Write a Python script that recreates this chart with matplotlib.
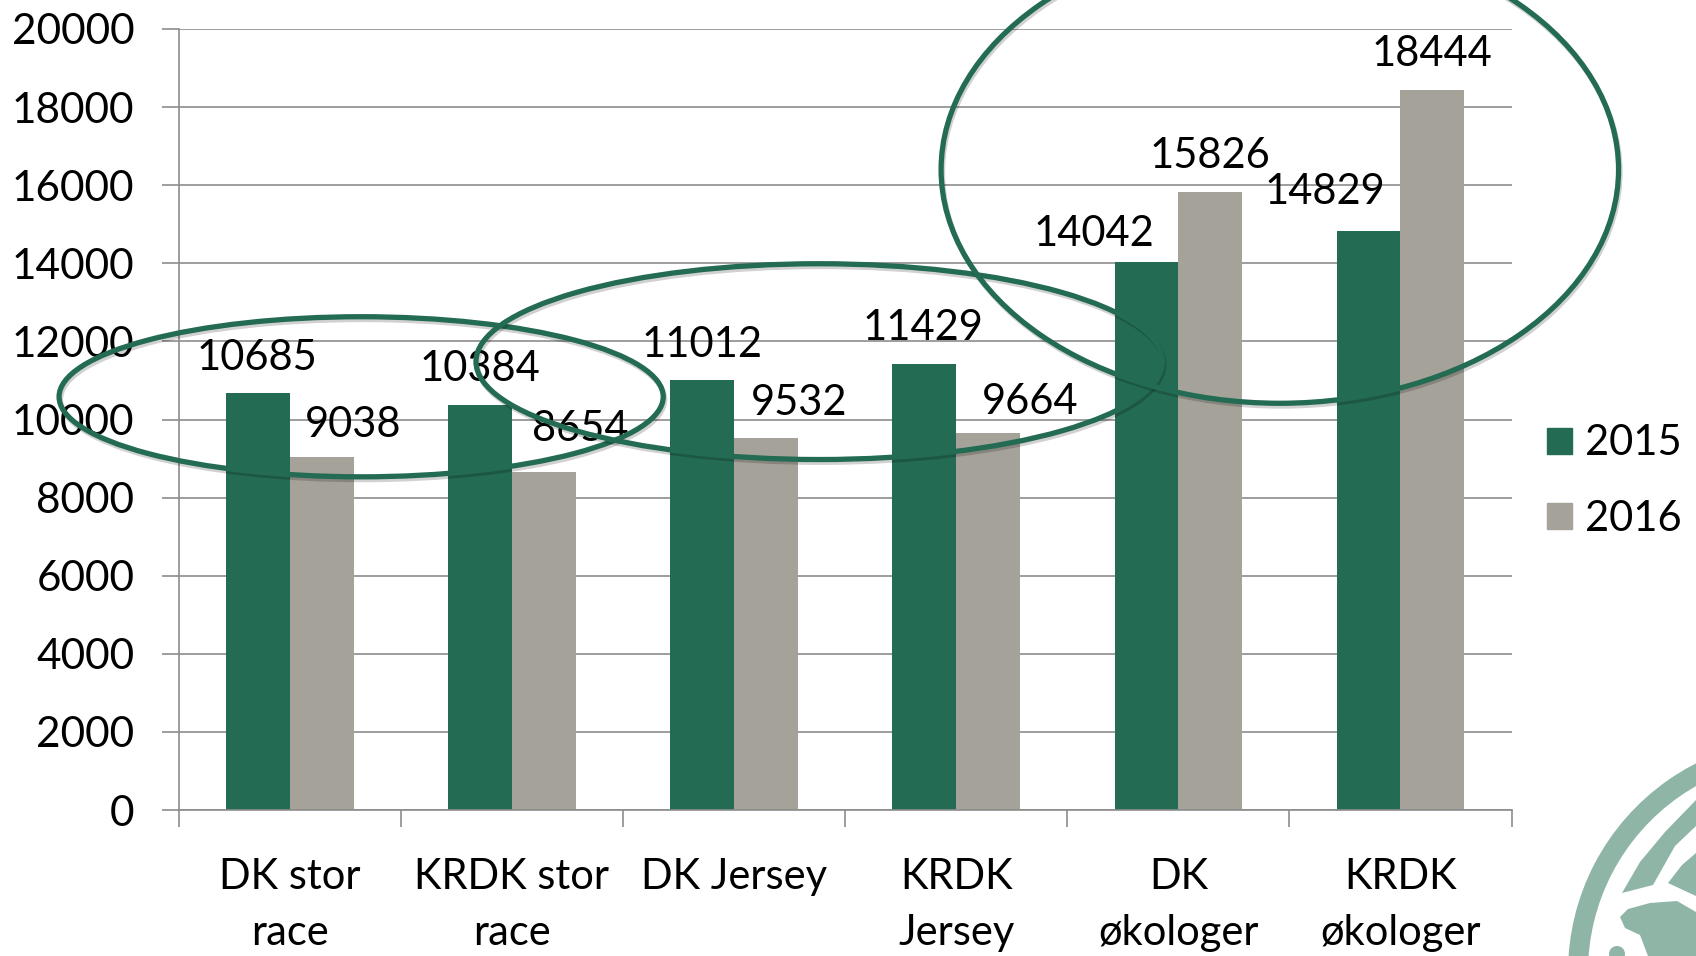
import matplotlib
matplotlib.use("Agg")
from matplotlib import pyplot as plt
from matplotlib import patheffects
from matplotlib.patches import Ellipse, Wedge, Polygon, Circle, Patch
import numpy as np

categories = ["DK stor\nrace", "KRDK stor\nrace", "DK Jersey", "KRDK\nJersey", "DK\nøkologer", "KRDK\nøkologer"]
values_2015 = [10685, 10384, 11012, 11429, 14042, 14829]
values_2016 = [9038, 8654, 9532, 9664, 15826, 18444]
y_ticks = [0, 2000, 4000, 6000, 8000, 10000, 12000, 14000, 16000, 18000, 20000]

# label shifts in pixels, some labels sit beside their bar
shift_2015 = [-1, 0, 0, -1, -53, -44]
shift_2016 = [31, 36, 33, 42, 0, 0]
rise_2015 = [35, 36, 35, 36, 28, 39]
rise_2016 = [32, 43, 35, 31, 36, 36]

# hand drawn rings: centre x, centre y, width, height
rings = [(0.321, 10582, 2.72, 4100), (2.383, 11482, 3.09, 5014), (4.457, 16399, 3.05, 11967)]

GREEN = "#236B52"
GREY = "#A5A299"
LOGO = "#8FB5A6"
LINE = "#8C8C8C"
W, H = 1696, 956

plt.rcParams["font.family"] = "Lato"
fig = plt.figure(figsize=(W / 100, H / 100), dpi=100)

# watermark in the corner, drawn in pixel coordinates
bg = fig.add_axes([0, 0, 1, 1], zorder=0)
bg.set_xlim(0, W)
bg.set_ylim(H, 0)
bg.axis("off")
cx, cy = 1802, 972
bg.add_patch(Wedge((cx, cy), 234, 180, 290, width=20, color=LOGO, lw=0))
bg.add_patch(Polygon([(1622, 893), (1640, 862), (1665, 832), (1696, 800), (1696, 826), (1675, 846), (1653, 885)], color=LOGO, lw=0))
bg.add_patch(Polygon([(1668, 883), (1682, 865), (1696, 853), (1696, 896)], color=LOGO, lw=0))
bg.add_patch(Polygon([(1620, 917), (1628, 909), (1650, 903), (1677, 901), (1696, 912), (1696, 956), (1648, 956), (1640, 935), (1625, 928)], color=LOGO, lw=0))
bg.add_patch(Circle((1617, 954), 8, color=LOGO, lw=0))

ax = fig.add_axes([178.8 / W, 1 - 810 / H, (1511.5 - 178.8) / W, (810 - 29) / H], zorder=1)
ax.patch.set_alpha(0)

x = np.arange(len(categories))
bar_w = 0.287
bars_a = ax.bar(x - bar_w / 2, values_2015, bar_w, color=GREEN, label="2015", zorder=2)
bars_b = ax.bar(x + bar_w / 2, values_2016, bar_w, color=GREY, label="2016", zorder=2)

for bars, shifts, rises in ((bars_a, shift_2015, rise_2015), (bars_b, shift_2016, rise_2016)):
    for bar, shift, rise in zip(bars, shifts, rises):
        ax.annotate(str(int(bar.get_height())), (bar.get_x() + bar.get_width() / 2, bar.get_height()),
                    xytext=(shift, rise), textcoords="offset pixels", ha="center", va="center",
                    fontsize=30, color="black", zorder=3, annotation_clip=False)

for rx, ry, rw, rh in rings:
    ring = Ellipse((rx, ry), rw, rh, fill=False, edgecolor=GREEN, lw=3.8, zorder=4, clip_on=False)
    ring.set_path_effects([patheffects.SimpleLineShadow(offset=(1, -2), shadow_color="black", alpha=0.18),
                           patheffects.Normal()])
    ax.add_patch(ring)

ax.set_xlim(-0.5, 5.5)
ax.set_ylim(0, 20000)
ax.set_yticks(y_ticks)
ax.tick_params(axis="y", labelsize=30.5, length=12, width=1.2, color=LINE, pad=20)
ax.yaxis.grid(True, color=LINE, lw=1.2, zorder=1)
ax.set_axisbelow(True)

# ticks sit between the groups, names in the middle
ax.set_xticks(np.arange(-0.5, 6, 1))
ax.set_xticklabels([])
ax.tick_params(axis="x", length=12, width=1.2, color=LINE)
for i, name in enumerate(categories):
    ax.annotate(name, (i, 0), xytext=(0, -48), textcoords="offset pixels", ha="center", va="top",
                fontsize=30, linespacing=1.58, annotation_clip=False)

for side in ("top", "right"):
    ax.spines[side].set_visible(False)
for side in ("left", "bottom"):
    ax.spines[side].set_color(LINE)
    ax.spines[side].set_linewidth(1.2)

handles = [Patch(color=GREEN, label="2015"), Patch(color=GREY, label="2016")]
ax.legend(handles=handles, loc="center left", bbox_to_anchor=(1.0265, 0.421),
          frameon=False, fontsize=30, handlelength=0.6, handleheight=0.6, handletextpad=0.32, labelspacing=0.9,
          borderpad=0, borderaxespad=0)

fig.savefig("out.png", dpi=100)
